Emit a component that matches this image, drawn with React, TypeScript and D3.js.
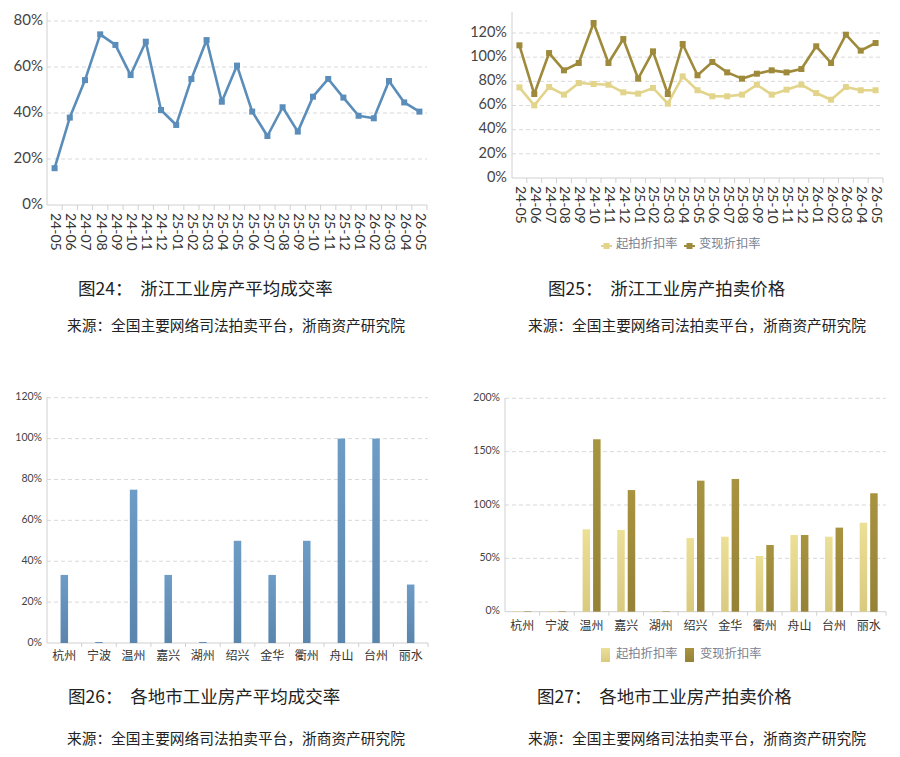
import React from "react";
import * as d3 from "d3";

const months = ["24-05","24-06","24-07","24-08","24-09","24-10","24-11","24-12","25-01","25-02","25-03","25-04","25-05","25-06","25-07","25-08","25-09","25-10","25-11","25-12","26-01","26-02","26-03","26-04","26-05"];
const dealRate = [16,38,54.3,74.2,69.6,56.5,71,41.3,34.8,54.8,71.7,44.9,60.6,40.6,30,42.5,31.9,47.1,54.8,46.7,38.8,37.7,53.9,44.6,40.6];
const startDiscount = [75,60.1,75.3,69,78.6,77.8,77.2,70.9,69.8,74.5,61.5,84.1,72.6,67.6,67.6,69,77.2,69,73.1,77.2,70.3,64.8,75.3,72.6,72.6];
const realizeDiscount = [109.8,69.5,103.4,89.1,95.2,128.3,95.2,115,82.2,104.8,69.5,110.9,85,96,87.4,82.2,86.3,89.1,87.4,90.2,109,95.2,118.6,105.4,111.7];
const cities = ["杭州","宁波","温州","嘉兴","湖州","绍兴","金华","衢州","舟山","台州","丽水"];
const cityDealRate = [33.3,0.5,75,33.3,0.5,50,33.3,50,100,100,28.6];
const cityStart = [0.5,0.5,77.2,76.6,0.5,69,70.3,52.2,71.9,70.3,83.4];
const cityRealize = [0.5,0.5,161.6,114,0.5,122.8,124.4,62.5,71.9,78.8,111];
const ticks1 = [0,20,40,60,80];
const ticks2 = [0,20,40,60,80,100,120];
const ticks3 = [0,20,40,60,80,100,120];
const ticks4 = [0,50,100,150,200];
const legendNames = ["起拍折扣率","变现折扣率"];
const captions = [
  "图24：  浙江工业房产平均成交率",
  "图25：  浙江工业房产拍卖价格",
  "图26：  各地市工业房产平均成交率",
  "图27：  各地市工业房产拍卖价格",
];
const source = "来源：全国主要网络司法拍卖平台，浙商资产研究院";

const BLUE = "#5b8dba";
const LIGHT = "#e2d48a";
const DARK = "#9e8a3a";
const GRID = "#d9d9d9";
const AXIS = "#d0d0d0";
const NUM_FONT = "Lato, 'Open Sans', sans-serif";
const CJK = "'Noto Sans CJK SC', sans-serif";
const SERIF_CJK = "'Noto Sans CJK SC', serif";

function Grid({ y, ticks, x0, x1, fmt, fontSize, labelX }: any) {
  return (
    <g>
      {ticks.map((t: number) => (
        <g key={t}>
          {t !== 0 && (
            <line x1={x0} x2={x1} y1={y(t)} y2={y(t)} stroke={GRID} strokeDasharray="4,3" />
          )}
          <text x={labelX} y={y(t)} textAnchor="end" dominantBaseline="middle" fontSize={fontSize} fill="#444" fontFamily={NUM_FONT}>
            {fmt(t)}
          </text>
        </g>
      ))}
    </g>
  );
}

function LineChart1() {
  const x0 = 47, x1 = 427, yTop = 12, yBot = 205;
  const x = d3.scaleBand().domain(months).range([x0, x1]);
  const y = d3.scaleLinear().domain([0, 80]).range([yBot, 21]);
  const line = d3.line<number>().x((_, i) => x(months[i])! + x.bandwidth() / 2).y((d) => y(d));
  return (
    <g>
      <Grid y={y} ticks={ticks1} x0={x0} x1={x1} fmt={(t: number) => t + "%"} fontSize={15} labelX={43} />
      <line x1={x0} x2={x0} y1={yTop} y2={yBot} stroke={AXIS} />
      <line x1={x0} x2={x1} y1={yBot} y2={yBot} stroke={AXIS} />
      {months.map((m, i) => (
        <line key={"t" + i} x1={x(m)! + x.bandwidth()} x2={x(m)! + x.bandwidth()} y1={yBot} y2={yBot + 5} stroke={AXIS} />
      ))}
      <path d={line(dealRate)!} fill="none" stroke={BLUE} strokeWidth={2.6} strokeLinejoin="round" />
      {dealRate.map((d, i) => (
        <rect key={i} x={x(months[i])! + x.bandwidth() / 2 - 3} y={y(d) - 3} width={6} height={6} fill={BLUE} />
      ))}
      {months.map((m) => (
        <text key={m} transform={`translate(${x(m)! + x.bandwidth() / 2},${yBot + 8}) rotate(90)`} dominantBaseline="middle" fontSize={14} fill="#333" fontFamily={NUM_FONT}>
          {m}
        </text>
      ))}
    </g>
  );
}

function LineChart2() {
  const x0 = 512, x1 = 883, yTop = 12, yBot = 178;
  const x = d3.scaleBand().domain(months).range([x0, x1]);
  const y = d3.scaleLinear().domain([0, 120]).range([yBot, 33]);
  const cx = (i: number) => x(months[i])! + x.bandwidth() / 2;
  const line = d3.line<number>().x((_, i) => cx(i)).y((d) => y(d));
  const series = [
    { data: startDiscount, color: LIGHT },
    { data: realizeDiscount, color: DARK },
  ];
  return (
    <g>
      <Grid y={y} ticks={ticks2} x0={x0} x1={x1} fmt={(t: number) => t + "%"} fontSize={14.5} labelX={507} />
      <line x1={x0} x2={x0} y1={yTop} y2={yBot} stroke={AXIS} />
      <line x1={x0} x2={x1} y1={yBot} y2={yBot} stroke={AXIS} />
      {months.map((m, i) => (
        <line key={"t" + i} x1={x(m)! + x.bandwidth()} x2={x(m)! + x.bandwidth()} y1={yBot} y2={yBot + 5} stroke={AXIS} />
      ))}
      {series.map((s, k) => (
        <g key={k}>
          <path d={line(s.data)!} fill="none" stroke={s.color} strokeWidth={2.6} strokeLinejoin="round" />
          {s.data.map((d, i) => (
            <rect key={i} x={cx(i) - 3} y={y(d) - 3} width={6} height={6} fill={s.color} />
          ))}
        </g>
      ))}
      {months.map((m, i) => (
        <text key={m} transform={`translate(${cx(i)},${yBot + 8}) rotate(90)`} dominantBaseline="middle" fontSize={14} fill="#333" fontFamily={NUM_FONT}>
          {m}
        </text>
      ))}
      {series.map((s, k) => {
        const lx = 601 + k * 83;
        return (
          <g key={"l" + k}>
            <line x1={lx} x2={lx + 11} y1={246} y2={246} stroke={s.color} strokeWidth={2} />
            <rect x={lx + 2.5} y={243} width={6} height={6} fill={s.color} />
            <text x={lx + 15} y={245} dominantBaseline="middle" fontSize={12.3} fill="#7a8090" fontFamily={CJK}>
              {legendNames[k]}
            </text>
          </g>
        );
      })}
    </g>
  );
}

function BarChart3() {
  const x0 = 47, x1 = 428, yTop = 397, yBot = 643;
  const x = d3.scaleBand().domain(cities).range([x0, x1]);
  const y = d3.scaleLinear().domain([0, 120]).range([yBot, 397.7]);
  const bw = 7.5;
  return (
    <g>
      <defs>
        <linearGradient id="gBlue" x1="0" x2="0" y1="0" y2="1">
          <stop offset="0" stopColor="#6d9cc6" />
          <stop offset="1" stopColor="#5a85ad" />
        </linearGradient>
      </defs>
      <Grid y={y} ticks={ticks3} x0={x0} x1={x1} fmt={(t: number) => t + "%"} fontSize={10.5} labelX={42} />
      <line x1={x0} x2={x0} y1={yTop} y2={yBot} stroke={AXIS} />
      <line x1={x0} x2={x1} y1={yBot} y2={yBot} stroke={AXIS} />
      {cities.map((c, i) => (
        <line key={"t" + i} x1={x(c)! + x.bandwidth()} x2={x(c)! + x.bandwidth()} y1={yBot} y2={yBot + 4} stroke={AXIS} />
      ))}
      {cityDealRate.map((d, i) => (
        <rect key={i} x={x(cities[i])! + x.bandwidth() / 2 - bw / 2} y={y(d)} width={bw} height={yBot - y(d)} fill="url(#gBlue)" />
      ))}
      {cities.map((c) => (
        <text key={c} x={x(c)! + x.bandwidth() / 2} y={657} textAnchor="middle" dominantBaseline="middle" fontSize={12} fill="#333" fontFamily={CJK}>
          {c}
        </text>
      ))}
    </g>
  );
}

function BarChart4() {
  const x0 = 505, x1 = 886, yTop = 398, yBot = 611.7;
  const x = d3.scaleBand().domain(cities).range([x0, x1]);
  const sub = d3.scaleBand().domain(["s", "r"]).range([0, x.bandwidth()]).paddingInner(0.5).paddingOuter(0.9);
  const y = d3.scaleLinear().domain([0, 200]).range([yBot, 398.3]);
  const bw = 7.5;
  const series = [
    { key: "s", data: cityStart, fill: "url(#gLight)", color: LIGHT },
    { key: "r", data: cityRealize, fill: "url(#gDark)", color: DARK },
  ];
  return (
    <g>
      <defs>
        <linearGradient id="gLight" x1="0" x2="0" y1="0" y2="1">
          <stop offset="0" stopColor="#ecdf96" />
          <stop offset="1" stopColor="#d9ca80" />
        </linearGradient>
        <linearGradient id="gDark" x1="0" x2="0" y1="0" y2="1">
          <stop offset="0" stopColor="#a8933f" />
          <stop offset="1" stopColor="#958236" />
        </linearGradient>
      </defs>
      <Grid y={y} ticks={ticks4} x0={x0} x1={x1} fmt={(t: number) => t + "%"} fontSize={10.5} labelX={500} />
      <line x1={x0} x2={x0} y1={yTop} y2={yBot} stroke={AXIS} />
      <line x1={x0} x2={x1} y1={yBot} y2={yBot} stroke={AXIS} />
      {cities.map((c, i) => (
        <line key={"t" + i} x1={x(c)! + x.bandwidth()} x2={x(c)! + x.bandwidth()} y1={yBot} y2={yBot + 4} stroke={AXIS} />
      ))}
      {series.map((s) =>
        s.data.map((d, i) => (
          <rect key={s.key + i} x={x(cities[i])! + sub(s.key)! + sub.bandwidth() / 2 - bw / 2} y={y(d)} width={bw} height={yBot - y(d)} fill={s.fill} />
        ))
      )}
      {cities.map((c) => (
        <text key={c} x={x(c)! + x.bandwidth() / 2} y={627} textAnchor="middle" dominantBaseline="middle" fontSize={12} fill="#333" fontFamily={CJK}>
          {c}
        </text>
      ))}
      {series.map((s, k) => {
        const lx = 601 + k * 84;
        return (
          <g key={"l" + k}>
            <rect x={lx} y={648} width={9} height={14} fill={s.fill} />
            <text x={lx + 15} y={655} dominantBaseline="middle" fontSize={12.3} fill="#7a8090" fontFamily={CJK}>
              {legendNames[k]}
            </text>
          </g>
        );
      })}
    </g>
  );
}

function Captions() {
  const pos = [
    { cx: 78, cy: 290, sx: 67, sy: 327 },
    { cx: 548, cy: 290, sx: 528, sy: 327 },
    { cx: 68, cy: 698, sx: 67, sy: 740 },
    { cx: 537, cy: 698, sx: 528, sy: 740 },
  ];
  return (
    <g>
      {captions.map((c, i) => (
        <g key={i}>
          <text x={pos[i].cx} y={pos[i].cy} dominantBaseline="middle" fontSize={17.5} fill="#222" fontFamily={SERIF_CJK} style={{ whiteSpace: "pre" }}>
            {c}
          </text>
          <text x={pos[i].sx} y={pos[i].sy} dominantBaseline="middle" fontSize={14.7} fill="#222" fontFamily={SERIF_CJK}>
            {source}
          </text>
        </g>
      ))}
    </g>
  );
}

export default function App() {
  return (
    <svg width={900} height={757} viewBox="0 0 900 757" style={{ position: "absolute", left: 0, top: 0, background: "#fff" }}>
      <rect width={900} height={757} fill="#fff" />
      <LineChart1 />
      <LineChart2 />
      <BarChart3 />
      <BarChart4 />
      <Captions />
    </svg>
  );
}
